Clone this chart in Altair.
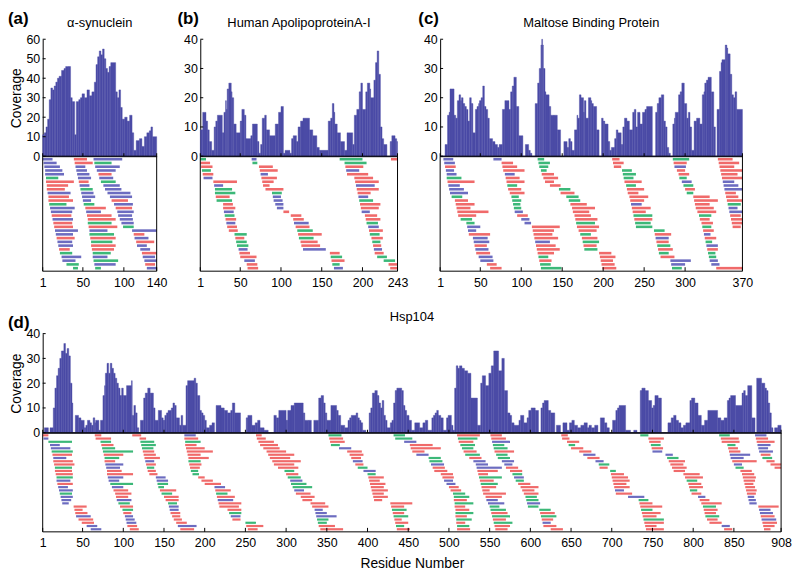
import altair as alt
import pandas as pd

FONT = "Liberation Sans"
RED, GREEN, BLUE = "#f06a6a", "#3cb878", "#6c6cc0"
BAR = "#4b4ba6"

# ---------------- coverage step data: (first residue, coverage) ----------------
A_COV = [(1,11),(3,12),(5,15),(7,19),(9,29),(11,35),(13,34),(15,36),(17,38),(19,40),(21,41),(24,44),
         (27,45),(29,46),(33,46),(35,30),(37,28),(40,11),(42,28),(45,29),(47,30),(49,32),(52,30),(55,34),
         (58,31),(61,33),(64,38),(66,47),(68,51),(70,54),(72,52),(74,55),(76,50),(78,45),(80,43),(82,46),
         (84,48),(90,33),(92,30),(94,34),(96,25),(98,19),(101,20),(104,18),(107,21),(110,12),(112,3),
         (115,8),(119,9),(122,5),(125,10),(128,12),(131,13),(133,15),(135,10)]
B_COV = [(1,9),(4,15),(8,12),(10,9),(12,5),(15,2),(18,10),(20,12),(22,14),(28,8),(30,15),(32,19),(33,16),
         (34,23),(36,25),(39,22),(40,20),(42,11),(45,8),(50,12),(52,16),(55,14),(57,6),(63,7),(65,11),
         (71,5),(73,1),(75,4),(77,13),(80,14),(82,9),(86,7),(93,11),(97,15),(100,17),(103,1),(105,2),
         (111,1),(113,6),(115,7),(119,5),(121,10),(124,12),(127,13),(135,9),(139,7),(144,3),(147,2),
         (158,12),(161,13),(163,18),(165,15),(166,11),(169,8),(173,5),(178,2),(181,8),(188,4),(190,14),
         (193,16),(196,22),(198,25),(200,16),(204,22),(206,25),(209,23),(210,20),(214,26),(216,32),
         (218,36),(220,28),(222,10),(224,6),(226,4),(230,0),(234,5),(236,7),(240,6),(242,5)]
C_COV = [(1,0),(7,4),(10,14),(12,15),(13,23),(18,14),(20,13),(22,19),(24,21),(26,19),(27,20),(29,18),
         (31,17),(33,16),(35,12),(37,20),(39,18),(41,8),(44,16),(46,17),(48,18),(49,19),(51,20),(53,24),
         (55,17),(57,16),(59,13),(61,6),(65,5),(68,4),(71,3),(73,4),(77,16),(80,19),(85,16),(87,22),
         (89,24),(91,27),(94,17),(97,7),(102,0),(105,4),(109,2),(111,1),(113,0),(117,18),(120,25),
         (122,30),(124,38),(125,40),(126,38),(127,30),(129,22),(130,21),(134,17),(136,14),(140,14),
         (144,9),(148,0),(152,5),(156,3),(158,6),(160,5),(162,2),(165,9),(168,14),(169,13),(171,21),
         (173,20),(176,15),(177,19),(179,13),(182,20),(185,19),(186,18),(188,17),(192,9),(195,0),
         (198,13),(200,12),(202,11),(206,5),(208,2),(210,3),(214,6),(216,9),(218,8),(222,4),(224,10),
         (226,13),(229,12),(232,9),(236,15),(238,16),(240,10),(242,15),(245,11),(248,15),(251,16),
         (253,17),(260,0),(264,15),(266,18),(268,20),(271,21),(274,12),(276,10),(278,3),(280,1),
         (282,0),(285,11),(287,13),(288,15),(292,21),(294,22),(296,25),(299,18),(302,13),(304,15),
         (306,10),(308,2),(311,12),(314,13),(318,11),(321,21),(323,22),(324,25),(326,26),(328,27),
         (332,22),(335,10),(337,0),(339,16),(342,29),(344,32),(345,33),(349,38),(351,37),(352,35),
         (355,28),(357,21),(359,20),(361,22),(363,16)]
D_COV = [(1,0),(3,2),(8,0),(10,2),(14,10),(16,18),(18,23),(20,26),(22,30),(24,33),(27,36),(29,32),
         (31,34),(33,31),(35,20),(37,12),(38,0),(41,7),(45,6),(48,5),(52,2),(54,3),(56,5),(59,4),(61,3),
         (63,6),(65,4),(66,5),(70,1),(72,5),(75,15),(77,19),(78,24),(80,28),(82,24),(84,28),(86,26),
         (88,24),(90,22),(92,20),(94,18),(96,15),(98,18),(100,15),(104,19),(110,21),(111,7),(113,11),
         (115,8),(117,2),(119,0),(121,5),(125,14),(127,16),(130,18),(133,16),(137,10),(139,5),(143,9),
         (147,6),(149,5),(151,7),(153,8),(155,9),(159,10),(161,12),(163,11),(165,6),(169,3),(171,7),
         (173,3),(177,19),(179,21),(187,22),(189,20),(191,15),(194,9),(196,8),(198,7),(200,5),(202,2),
         (206,3),(209,4),(212,0),(214,11),(220,10),(224,9),(228,8),(232,9),(234,12),(237,8),(244,0),
         (251,6),(253,7),(258,3),(262,4),(265,5),(268,2),(273,1),(278,0),(285,7),(288,6),(291,9),
         (300,5),(302,9),(306,11),(310,12),(321,8),(323,5),(328,5),(331,0),(334,5),(340,14),(343,15),
         (346,12),(348,8),(350,5),(355,11),(362,9),(364,7),(367,3),(372,2),(376,5),(378,6),(380,7),
         (386,8),(388,6),(390,5),(392,4),(394,1),(398,0),(402,8),(404,10),(406,16),(409,17),(412,15),
         (414,12),(416,10),(418,13),(420,7),(422,5),(424,2),(428,4),(430,5),(432,12),(434,17),(436,18),
         (442,17),(444,11),(446,9),(448,7),(451,5),(454,1),(458,4),(464,2),(468,4),(471,5),(474,1),
         (479,6),(481,7),(483,8),(485,9),(487,7),(490,6),(493,1),(497,6),(499,7),(503,3),(505,1),
         (507,18),(509,27),(511,26),(513,27),(516,26),(519,25),(523,24),(527,14),(535,3),(539,20),
         (541,23),(545,19),(549,24),(552,27),(555,33),(561,25),(565,30),(568,17),(572,8),(575,7),
         (577,4),(580,3),(586,5),(588,7),(592,4),(596,6),(598,9),(601,10),(606,9),(610,0),(613,10),
         (615,12),(617,13),(622,9),(625,8),(630,0),(632,3),(637,0),(640,4),(645,1),(648,4),(651,5),
         (654,3),(658,2),(662,3),(666,4),(670,2),(672,3),(675,2),(679,3),(683,0),(686,6),(691,4),
         (694,2),(697,0),(701,5),(705,9),(707,10),(709,11),(717,1),(723,0),(727,1),(731,0),(735,17),
         (737,18),(741,17),(745,13),(749,10),(751,11),(753,15),(757,14),(761,0),(769,4),(773,6),
         (776,7),(779,5),(782,4),(785,2),(788,3),(791,4),(796,13),(798,14),(802,12),(806,7),(810,3),
         (814,5),(818,9),(830,6),(834,5),(838,6),(842,13),(844,14),(846,15),(852,11),(860,16),(862,17),
         (864,15),(867,19),(872,6),(876,0),(878,22),(884,20),(888,18),(890,17),(892,12),(894,8),
         (896,2),(898,0),(900,2),(904,3)]

# ---------------- peptide maps: one string per staircase column, "start-end colour" ----------------
A_PEP = [
 "1-13b 2-18b 3-22b 4-25b 4-27b 5-20g 5-39r 6-32r 6-28r 7-35b 8-33r 8-38r 9-30g 10-40b 11-37b 12-36r 13-38b 14-37r 15-38r 16-44b 17-38b 18-40r 19-37b 20-38b 21-34r 22-37g 24-48b 25-41b 30-45g 38-44g",
 "39-55r 40-62r 41-53b 42-55b 43-58b 44-60b 45-57r 46-58b 47-62g 48-63b 49-65b 50-60b 51-64g 53-78r 54-72b 55-85r 56-90r 56-85g 57-92r 58-80b 58-88g 59-90r 60-86g 60-90r 61-88r 62-84g 62-80b 63-93g 64-90b 65-72g",
 "63-98b 64-85g 65-95b 67-90b 69-85r 70-87b 72-90g 75-95b 77-97b 80-108b 83-110b 85-105r 88-111b 90-110r 92-112b 93-110b 95-111b 97-112b 99-112g 110-140b 112-125r 113-130b 115-137r 116-128b 120-132b 122-140r 123-138b 125-140b 126-138r 128-140b",
]
B_PEP = [
 "1-8g 1-13r 2-16r 3-14g 4-17r 5-16b 17-46r 18-29b 19-40g 19-44g 20-37r 21-40g 29-41r 29-44r 30-42b 31-43g 32-45r 33-44b 34-46r 36-47r 43-58g 44-55r 45-58g 46-60g 48-59b 49-62r 50-70r 55-68b 58-71r 59-72r",
 "64-70b 65-71g 73-90r 74-96r 75-84b 76-95r 77-91r 78-86r 81-103r 89-101g 90-100b 91-102b 93-103b 95-103b 103-110r 112-125r 115-128r 116-134b 118-135r 120-139g 121-150r 122-140g 124-145r 125-148r 127-155b 160-172r 161-175g 162-178r 163-172g 165-176b",
 "172-200g 178-205g 179-201r 180-196b 181-207r 190-213r 191-220r 192-215b 193-220r 194-210r 195-207b 196-213g 197-222r 198-220r 199-209b 203-218r 204-222r 205-219g 207-220b 208-225r 209-221g 211-225r 212-222g 213-223r 214-224b 215-226r 218-230g 226-240g 232-243r 234-243r",
 "235-243r",
]
C_PEP = [
 "5-17b 6-19b 7-20r 8-18b 9-21b 9-27g 10-43r 11-25b 12-30b 13-35b 15-28g 19-35r 20-43r 21-38r 22-60r 23-45r 26-40g 33-43g 34-50b 35-45b 36-62r 41-59b 42-61b 43-58r 44-60b 45-62r 48-65b 50-66b 58-70r 62-76r",
 "66-76b 76-90r 77-95r 78-104r 80-92b 81-98r 82-104r 83-95g 84-100r 86-104r 88-97g 89-100g 90-99g 91-100g 92-102b 95-108r 100-110b 104-112b 113-147r 114-140r 115-138r 116-145r 117-135b 118-142r 119-147r 120-140r 121-133g 122-137r 123-136g 124-149g",
 "120-128g 121-135g 122-133g 124-131g 125-140r 127-145r 129-140r 135-148r 146-160g 148-165r 155-170g 158-172g 160-180r 162-190r 163-183r 165-185r 166-193r 167-190g 168-195r 170-192r 172-185g 174-193r 175-195g 176-192r 177-193g 195-210r 196-215r 197-212r 198-214r 199-216r",
 "211-220r 212-225r 213-222r 223-235g 224-240g 225-237g 226-247r 228-240g 229-250r 230-243r 232-255r 233-250r 234-247b 235-258r 236-252r 237-260g 238-260r 239-258g 240-260g 262-275g 263-283r 264-280b 265-280r 266-282g 267-285r 268-280g 270-287r 282-307b 283-300b 284-296g",
 "285-305g 286-302r 287-301b 290-300r 292-305r 293-302g 296-308b 298-310g 300-312r 302-310g 310-330r 311-340r 312-330r 313-335r 315-338r 317-332g 318-330r 320-334r 321-332g 322-335r 323-331b 324-338r 325-333g 326-340b 327-340r 328-337g 329-338g 330-340b 332-342b 338-370r",
 "340-358r 341-366r 342-360r 343-370r 344-364r 345-370r 346-360b 347-365b 348-370b 349-362r 350-365r 351-370r 352-368g 353-364b 354-370b 355-368r 356-370r 357-370r 358-368r",
]
D_PEP = [
 "1-8r 2-8b 8-37g 10-22b 11-35b 12-38g 13-37r 14-30b 14-38r 15-40r 16-37g 16-37r 17-38r 18-38g 18-35b 19-38r 20-32b 21-38b 22-37g 23-38b 24-36b 25-33b 39-55r 40-50r 41-56r 42-60b 45-63r 49-64r 55-68b 60-73b",
 "65-73r 66-85r 72-85g 73-88r 74-90g 75-112g 76-100r 77-95g 77-90r 78-100b 79-96b 80-98r 80-112r 81-100b 82-95b 84-112g 86-100b 88-106r 90-110r 91-106r 92-110b 94-108g 96-112r 99-112g 100-110r 102-112b 103-114b 104-116b 105-117r 108-119r",
 "111-122r 120-128r 121-138g 122-140g 123-137g 124-138r 125-140r 126-145r 127-138b 128-140r 129-138g 130-140r 132-142r 140-152b 141-155b 142-155g 143-150g 145-165r 147-160g 150-168r 152-168r 155-166g 156-168b 157-168b 158-170r 160-170r 162-172r 165-178r 167-190b 170-187r",
 "175-189b 175-192r 176-195g 176-190r 177-200r 178-210r 179-195r 180-205r 180-195g 181-196r 182-194r 183-192g 185-193g 192-200r 196-210r 200-220r 212-225b 213-232r 214-228g 215-237r 216-235b 217-245r 218-242r 228-245r 230-245g 232-244b 234-244r 250-263g 251-272r 253-265r",
 "263-270r 264-275r 266-285r 268-290r 272-292r 276-300r 278-310r 280-305r 283-318r 285-310r 290-315r 298-310g 300-315r 302-318g 305-320b 306-325g 308-332g 310-322b 312-330r 318-335r 320-332r 330-348r 332-352r 335-345b 336-350b 337-362b 338-352g 339-350g 340-360r 342-370r",
 "352-368g 353-370r 354-372r 355-366g 365-380b 375-393r 378-395r 380-392r 382-394b 385-395r 388-400g 395-410b 400-410g 401-420r 402-415r 403-422r 404-420r 405-425r 406-420r 407-425r 408-418r 428-455r 429-445r 430-448g 431-445r 432-450g 433-442r 434-450r 435-445g 436-452r",
 "432-446g 434-455g 445-460b 452-480r 453-490r 455-470r 460-475b 475-490g 476-492g 478-494b 480-495r 482-498r 490-505r 492-506r 494-505b 497-508b 500-512r 502-515r 505-520g 506-525g 506-522r 507-530g 507-520r 508-525r 508-530g 508-522r 509-528g 509-520r 510-525g 510-526r",
 "510-538r 511-535g 512-530r 514-532g 516-530g 518-534r 520-538g 525-540r 530-545b 533-548b 534-565b 535-560r 536-548r 537-565g 538-555r 539-560g 540-558r 541-550r 542-570r 545-565r 546-560b 548-568b 550-562g 551-570g 552-572r 553-575g 554-570r 555-578g 556-575r 557-572r",
 "551-565r 552-570r 553-575b 554-568g 555-572g 556-580r 558-572g 560-575g 565-580b 568-578b 570-585r 575-590r 578-590g 580-592b 582-592g 585-600r 588-610r 590-605r 592-610r 594-608g 595-610g 596-612b 597-610g 611-625g 612-630r 613-632g 614-628r 615-625b 616-632r 625-640r",
 "638-646r 639-648r 645-660r 647-655g 650-665r 660-675r 665-680b 670-685r 680-690b 684-697g 685-695r 698-705g 699-715r 700-720r 701-722r 702-718r 703-722r 704-715b 705-725r 720-740b 733-745g 734-750r 735-762r 736-750g 737-760r 738-755r 739-764g 740-764r 741-755r 742-764r",
 "735-745g 745-764r 746-760r 748-760g 749-763r 750-762b 766-775b 768-782g 770-790r 772-788r 774-792r 776-790r 788-808r 790-812r 792-805g 794-810r 795-812r 796-805g 798-810r 806-815b 808-820r 810-835r 812-828g 813-830r 814-828r 815-832g 817-830r 820-835r 835-845b 838-848r",
 "832-845g 834-856r 835-857r 842-852g 843-855r 844-858r 845-870b 846-862b 848-878r 850-860b 852-862g 858-872r 860-875r 861-877r 862-876r 863-874r 864-876r 865-878r 866-877r 867-875b 868-877b 869-878b 880-905r 881-895b 882-898b 883-900r 884-902b 885-903r 886-900r 887-895r",
 "876-890b 877-892r 878-900r 879-895b 880-892b 881-898b 883-895r 885-897g 890-900r 895-908r 900-908r",
]

A_TICKS = [1, 50, 100, 140]
B_TICKS = [1, 50, 100, 150, 200, 243]
C_TICKS = [1, 50, 100, 150, 200, 250, 300, 370]
D_TICKS = [1, 50, 100, 150, 200, 250, 300, 350, 400, 450, 500, 550, 600, 650, 700, 750, 800, 850, 908]


def steps_df(steps, n):
    rows = []
    for i, (s, v) in enumerate(steps):
        e = steps[i + 1][0] if i + 1 < len(steps) else n
        rows.append({"start": s, "end": e, "cov": v, "base": 0})
    return pd.DataFrame(rows)


def pep_df(cols):
    rows = []
    for col in cols:
        for r, tok in enumerate(col.split()):
            c = tok[-1]
            s, e = tok[:-1].split("-")
            rows.append({"start": int(s), "end": int(e), "row": r, "c": c})
    return pd.DataFrame(rows)


def text_chart(txt, x, y, size, weight, align, baseline):
    return alt.Chart(pd.DataFrame({"t": [txt]})).mark_text(
        fontSize=size, fontWeight=weight, align=align, baseline=baseline, font=FONT, color="black"
    ).encode(text="t:N", x=alt.value(x), y=alt.value(y))


def panel(letter, title, steps, n, pep, ticks, ymax, width, hcov, hmap,
          letter_dx, letter_dy, title_dy, ytitle, xtitle, stroke):
    xs = alt.Scale(domain=[1, n], nice=False, zero=False)
    ys = alt.Scale(domain=[0, ymax], nice=False, zero=True)
    yvals = list(range(0, ymax + 1, 10))
    ax_cx = alt.Axis(labels=False, ticks=False, domain=True, domainColor="black", grid=False, title=None)
    ax_cy = alt.Axis(values=yvals, grid=False, ticks=False, domainColor="black", title=ytitle,
                     labelPadding=3, titlePadding=2, labelOverlap=False, labelFlush=False)
    ax_mx = alt.Axis(values=ticks, ticks=False, domain=False, grid=False, title=xtitle, labelPadding=5,
                     labelFlush=False, labelOverlap=False, titlePadding=7)

    bars = alt.Chart(steps_df(steps, n)).mark_rect(color=BAR, stroke=BAR, strokeWidth=0.4).encode(
        x=alt.X("start:Q", scale=xs, axis=ax_cx),
        x2="end:Q",
        y=alt.Y("cov:Q", scale=ys, axis=ax_cy),
        y2="base:Q",
    )
    xt = alt.Chart(pd.DataFrame({"start": ticks})).mark_rule(color="black").encode(
        x=alt.X("start:Q", scale=xs, axis=ax_cx), y=alt.value(hcov), y2=alt.value(hcov - 3))
    yt = alt.Chart(pd.DataFrame({"cov": yvals})).mark_rule(color="black").encode(
        y=alt.Y("cov:Q", scale=ys, axis=ax_cy), x=alt.value(0), x2=alt.value(3))
    lab = text_chart(letter, letter_dx, letter_dy, 17, "bold", "left", "top")
    ttl = text_chart(title, width / 2, title_dy, 13, "normal", "center", "middle")
    cov_chart = alt.layer(bars, xt, yt, lab, ttl).properties(width=width, height=hcov)

    peps = alt.Chart(pep_df(pep)).mark_rule(strokeWidth=stroke).encode(
        x=alt.X("start:Q", scale=xs, axis=ax_mx),
        x2="end:Q",
        y=alt.Y("row:Q", scale=alt.Scale(domain=[-0.8, 29.8], reverse=True, nice=False, zero=False), axis=None),
        color=alt.Color("c:N", scale=alt.Scale(domain=["r", "g", "b"], range=[RED, GREEN, BLUE]), legend=None),
    )
    mt = alt.Chart(pd.DataFrame({"start": ticks})).mark_rule(color="black").encode(
        x=alt.X("start:Q", scale=xs, axis=ax_mx), y=alt.value(hmap), y2=alt.value(hmap - 4))
    box = alt.Chart(pd.DataFrame({"b": [0]})).mark_rect(fillOpacity=0, stroke="black", strokeWidth=1).encode(
        x=alt.value(0), x2=alt.value(width), y=alt.value(0), y2=alt.value(hmap))
    map_chart = alt.layer(peps, mt, box).properties(width=width, height=hmap)

    return alt.vconcat(cov_chart, map_chart, spacing=0, bounds="flush")


pa = panel("(a)", "α-synuclein", A_COV, 140, A_PEP, A_TICKS, 60, 115, 118, 116, -35, -28, -16, "Coverage", None, 2.6)
pb = panel("(b)", "Human ApolipoproteinA-I", B_COV, 243, B_PEP, B_TICKS, 40, 199, 118, 116, -23, -28, -16, None, None, 2.6)
pc = panel("(c)", "Maltose Binding Protein", C_COV, 370, C_PEP, C_TICKS, 40, 305, 118, 116, -22, -28, -16, None, None, 2.6)
pd_ = panel("(d)", "Hsp104", D_COV, 908, D_PEP, D_TICKS, 40, 745, 100, 100, -35, -19, -17, "Coverage", "Residue Number", 2.2)

top = alt.hconcat(pa, pb, pc, spacing=10)
chart = alt.vconcat(top, pd_, spacing=22).properties(padding=0, background="white").configure_view(
    stroke=None
).configure_axis(
    labelFont=FONT, titleFont=FONT, labelFontSize=12.5, titleFontSize=14, labelColor="black",
    titleColor="black", titleFontWeight="normal", domainColor="black"
)

chart.save("out.html", embed_options={"renderer": "svg", "actions": False})
